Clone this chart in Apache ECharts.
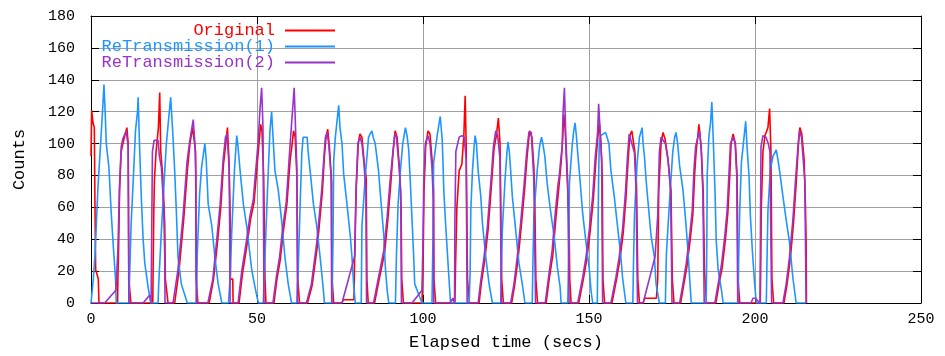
<!DOCTYPE html>
<html>
<head>
<meta charset="utf-8">
<script src="https://cdn.jsdelivr.net/npm/echarts@6/dist/echarts.min.js"></script>
<style>
html,body{margin:0;padding:0;background:#fff;}
#chart{width:945px;height:356px;}
</style>
</head>
<body>
<div id="chart"></div>
<script>
const seriesNames = ['Original', 'ReTransmission(1)', 'ReTransmission(2)'];
const seriesColors = ['#ff0000', '#1e96ff', '#9933cc'];

// [elapsed seconds, count]
const original = [
[0,92],[0.2,121],[0.6,113],[1.0,110],[1.2,60],[1.4,21],[2.2,15],[2.4,0],
[8.0,0],[8.1,15],[8.3,33],[8.6,70],[9.1,95],[9.6,100],[10.2,105],[10.8,110],[11.2,100],[11.4,15],[11.9,15],[12.0,0],
[18.6,0],[18.9,55],[19.1,77],[19.6,95],[20.3,110],[20.7,132],[21.0,95],[21.6,80],[22.2,50],[22.4,15],[23.0,15],[23.2,0],
[25.2,0],[26.5,20],[27.9,52],[29.1,85],[29.8,100],[30.6,110],[31.0,110],[31.5,95],[31.7,15],[32.1,15],[32.2,0],
[35.6,0],[36.9,15],[38.0,36],[39.1,60],[39.9,87],[40.6,100],[41.1,110],[41.6,87],[41.9,56],[42.0,15],[42.7,15],[42.8,0],
[44.6,0],[45.6,18],[47.1,38],[48.1,53],[49.1,63],[49.6,75],[50.1,88],[50.6,100],[51.1,112],[51.5,108],[52.0,80],[52.2,50],[52.4,15],[52.6,15],[52.7,0],
[55.1,0],[56.0,15],[57.0,27],[58.0,46],[59.0,62],[60.0,90],[60.6,100],[61.0,108],[61.5,104],[62.0,80],[62.3,15],[62.7,15],[62.8,0],
[65.2,0],[66.6,11],[68.2,36],[69.7,70],[70.3,92],[70.8,104],[71.3,109],[71.8,98],[72.5,75],[72.6,15],[73.0,15],[73.1,0],
[75.6,0],[76.0,2],[79.2,2],[79.5,40],[79.9,72],[80.5,100],[81.0,106],[81.6,104],[82.3,88],[82.9,78],[83.1,15],[83.4,15],[83.5,0],
[85.4,0],[86.8,15],[88.4,31],[89.4,52],[90.3,75],[91.0,95],[91.6,108],[92.2,104],[92.9,85],[93.4,60],[93.6,15],[94.0,15],[94.1,0],
[99.7,0],[100.0,20],[100.3,70],[100.8,98],[101.5,108],[102.1,106],[102.8,88],[103.2,70],[103.3,15],[103.7,15],[103.8,0],
[109.6,0],[109.8,23],[110.2,60],[110.9,83],[111.7,87],[112.3,105],[112.7,130],[113.0,100],[113.4,15],[113.9,15],[114.0,0],
[116.9,0],[117.6,13],[118.6,27],[119.6,46],[120.3,65],[120.9,82],[121.4,97],[122.1,105],[122.7,116],[123.2,100],[123.7,15],[124.1,15],[124.2,0],
[126.7,0],[127.6,11],[128.6,27],[129.6,48],[130.6,71],[131.4,93],[132.1,108],[132.8,104],[133.4,85],[133.7,60],[134.0,15],[134.4,15],[134.5,0],
[137.1,0],[138.0,15],[139.1,30],[140.1,55],[140.9,72],[141.6,88],[142.0,100],[142.4,118],[142.8,110],[143.5,75],[144.0,50],[144.2,15],[144.5,15],[144.6,0],
[146.9,0],[148.3,15],[149.3,27],[150.3,44],[151.3,65],[152.1,90],[152.7,105],[153.1,113],[153.6,100],[154.0,80],[154.2,15],[154.6,15],[154.7,0],
[156.9,0],[158.3,15],[159.3,27],[160.3,44],[161.1,65],[161.8,90],[162.3,105],[162.9,108],[163.8,95],[164.3,75],[164.7,15],[165.1,15],[165.2,0],
[166.3,0],[166.8,3],[170.3,3],[170.7,15],[171.0,70],[171.7,100],[172.3,107],[172.9,103],[173.8,90],[174.7,70],[175.1,15],[175.5,15],[175.6,0],
[177.6,0],[178.5,11],[179.5,23],[180.5,40],[181.3,56],[181.8,80],[182.3,96],[182.8,105],[183.1,112],[183.8,98],[184.4,70],[184.8,20],[185.3,20],[185.4,0],
[188.2,0],[189.1,11],[190.1,22],[191.1,40],[191.8,56],[192.4,80],[192.8,100],[193.4,106],[194.1,100],[194.6,80],[194.9,15],[195.3,15],[195.4,0],
[201.6,0],[201.9,60],[202.4,95],[203.0,105],[203.9,110],[204.4,122],[204.8,95],[205.1,15],[205.5,15],[205.6,0],
[208.7,0],[209.6,11],[210.6,27],[211.6,50],[212.4,75],[213.1,100],[213.5,110],[214.1,106],[214.8,90],[215.2,60],[215.4,38],[215.5,0]
];

const retrans1 = [
[0,0],[0.6,0],[0.7,15],[1.2,30],[2.1,73],[2.9,100],[3.6,125],[3.9,137],[4.3,118],[4.6,100],[5.4,85],[6.1,56],[6.8,33],[7.4,15],[7.6,0],
[11.4,0],[11.6,15],[12.1,50],[12.9,85],[13.4,108],[14.0,120],[14.2,129],[14.6,100],[15.2,64],[15.7,40],[16.2,25],[17.2,10],[18.0,0],
[20.2,0],[20.4,12],[21.2,45],[22.0,75],[22.7,100],[23.5,118],[24.0,129],[24.4,115],[24.7,104],[25.2,83],[25.7,58],[26.2,29],[27.2,12],[29.0,0],
[31.8,0],[32.0,30],[32.7,68],[33.3,85],[33.7,91],[34.3,100],[34.7,90],[35.3,62],[36.4,48],[37.3,29],[38.3,12],[39.4,0],
[41.4,0],[41.9,15],[42.4,45],[43.2,83],[43.9,105],[44.2,100],[44.9,83],[45.9,62],[46.9,48],[48.4,21],[49.4,10],[50.4,0],
[51.9,0],[52.1,12],[52.4,29],[53.2,73],[53.9,108],[54.4,120],[54.8,105],[55.4,83],[56.4,71],[57.4,52],[58.4,29],[59.4,12],[60.4,0],
[62.0,0],[62.4,20],[63.0,62],[63.5,94],[63.9,104],[65.1,104],[65.4,95],[66.0,83],[67.0,62],[68.0,48],[69.0,29],[70.0,8],[70.3,0],
[72.6,0],[72.9,40],[73.1,89],[73.6,104],[74.1,114],[74.6,124],[75.0,110],[75.6,100],[76.1,81],[77.1,62],[78.1,42],[78.6,29],[79.1,12],[79.6,0],
[81.4,0],[81.6,48],[82.6,79],[83.6,104],[84.1,106],[84.6,108],[85.0,104],[85.6,100],[86.6,83],[87.4,62],[88.2,42],[88.7,21],[89.2,8],[89.7,0],
[91.7,0],[92.0,30],[92.5,62],[93.2,83],[93.9,100],[94.7,110],[95.2,105],[95.7,96],[96.2,75],[96.7,52],[97.2,29],[97.5,12],[99.7,0],
[102.7,0],[103.0,40],[103.2,88],[104.2,104],[104.8,112],[105.2,117],[105.8,102],[106.3,69],[106.8,50],[107.3,33],[107.8,16],[108.3,0],
[113.9,0],[114.2,20],[114.4,58],[114.9,83],[115.4,98],[115.7,105],[116.1,100],[116.6,83],[117.4,67],[117.9,50],[118.9,29],[119.9,12],[120.9,0],
[123.4,0],[123.6,20],[123.9,46],[124.7,77],[125.3,95],[125.6,101],[126.0,95],[126.4,83],[126.9,67],[127.9,46],[128.9,25],[129.9,12],[130.7,0],
[132.9,0],[133.1,25],[133.4,55],[134.4,83],[135.1,98],[135.7,104],[136.1,100],[136.7,92],[137.4,75],[138.4,58],[139.5,42],[140.5,22],[141.3,10],[141.6,0],
[143.6,0],[143.9,30],[144.1,75],[144.9,98],[145.4,108],[145.8,113],[146.2,105],[146.6,94],[147.3,77],[148.1,56],[149.1,38],[150.1,21],[150.6,8],[151.1,0],
[152.5,0],[152.7,40],[152.9,80],[153.1,100],[153.5,105],[155.0,107],[156.0,100],[156.6,83],[157.6,67],[158.6,48],[159.6,29],[160.1,16],[161.1,0],
[163.2,0],[163.4,25],[163.7,55],[164.5,88],[165.2,104],[166.0,110],[166.3,100],[166.7,92],[167.2,77],[168.0,58],[168.7,42],[169.7,29],[170.2,12],[171.2,0],
[173.0,0],[173.3,30],[174.2,62],[175.2,94],[175.8,104],[176.2,107],[176.7,100],[177.3,86],[178.3,71],[179.1,52],[179.8,33],[180.3,16],[180.8,0],
[185.3,0],[185.5,40],[185.6,80],[186.1,104],[186.6,113],[187.0,126],[187.3,110],[187.5,98],[188.0,67],[188.3,40],[188.9,21],[189.9,8],[190.4,0],
[194.9,0],[195.1,30],[195.4,58],[195.9,88],[196.6,102],[197.2,114],[197.6,98],[198.2,80],[198.6,55],[199.2,33],[199.9,12],[200.4,0],
[203.4,0],[203.6,25],[203.9,58],[204.6,83],[205.4,92],[206.4,96],[206.9,90],[207.4,83],[208.4,67],[209.4,52],[210.4,38],[211.4,16],[212.4,0],
[215.4,0]
];

const retrans2 = [
[0,0],[4.1,0],[7.5,8],[8.1,33],[8.6,74],[9.1,98],[9.6,103],[10.2,106],[10.6,108],[11.2,98],[11.4,0],
[15.7,0],[17.7,5],[18.1,0],[18.4,0],[18.5,95],[19.0,102],[20.2,102],[20.6,92],[21.2,85],[21.9,60],[22.2,30],[22.3,0],
[24.7,0],[26.2,21],[27.7,54],[28.9,88],[29.7,101],[30.4,110],[30.8,115],[31.3,100],[31.6,80],[31.7,0],
[35.2,0],[36.7,15],[37.8,38],[38.9,62],[39.8,90],[40.5,104],[41.0,106],[41.6,85],[41.8,40],[41.9,0],
[44.3,0],[45.4,20],[46.9,40],[47.9,55],[48.9,65],[49.4,78],[49.9,90],[50.4,103],[50.9,122],[51.4,135],[51.8,110],[52.1,0],
[54.8,0],[55.8,16],[56.8,29],[57.8,48],[58.8,63],[59.8,94],[60.5,115],[61.2,135],[61.6,110],[62.0,85],[62.2,0],
[64.9,0],[66.4,12],[68.0,38],[69.5,71],[70.1,90],[70.6,104],[71.1,107],[71.6,100],[72.3,80],[72.5,0],
[75.6,0],[79.5,30],[79.8,70],[80.4,100],[81.0,104],[81.6,100],[82.2,88],[82.8,70],[83.0,0],
[85.1,0],[86.6,16],[88.2,33],[89.2,54],[90.1,77],[90.9,94],[91.5,106],[92.0,104],[92.8,85],[93.3,70],[93.5,0],
[96.7,0],[99.7,8],[100.0,40],[100.2,73],[100.7,100],[101.5,105],[102.1,100],[102.7,85],[103.1,65],[103.2,0],
[108.1,0],[109.0,3],[109.5,0],[109.6,50],[109.9,95],[110.9,104],[111.7,105],[112.4,104],[113.0,90],[113.3,0],
[116.6,0],[117.4,14],[118.4,29],[119.4,48],[120.1,67],[120.7,83],[121.2,98],[121.9,108],[122.5,105],[123.2,90],[123.6,0],
[126.4,0],[127.4,12],[128.4,29],[129.4,50],[130.4,73],[131.2,94],[131.9,107],[132.6,107],[133.4,77],[133.9,0],
[136.8,0],[137.8,16],[138.9,33],[139.9,58],[140.7,75],[141.0,79],[141.5,90],[141.9,98],[142.2,120],[142.6,135],[143.0,105],[143.6,75],[144.0,0],
[146.6,0],[148.1,16],[149.1,29],[150.1,46],[151.1,67],[151.9,92],[152.6,107],[152.9,125],[153.3,110],[153.8,90],[154.1,0],
[156.6,0],[158.1,16],[159.1,29],[160.1,46],[160.9,67],[161.6,92],[162.1,106],[162.7,107],[163.7,94],[164.2,70],[164.6,0],
[166.3,0],[169.9,29],[170.7,55],[171.2,95],[171.7,104],[172.3,105],[173.0,100],[173.8,90],[174.6,70],[175.0,0],
[177.3,0],[178.3,12],[179.3,25],[180.3,42],[181.1,58],[181.6,83],[182.1,98],[182.8,104],[183.3,108],[183.8,96],[184.3,69],[184.7,0],
[187.9,0],[188.9,12],[189.9,24],[190.9,42],[191.6,58],[192.2,83],[192.6,100],[193.4,104],[194.0,100],[194.5,80],[194.8,0],
[198.8,0],[199.4,3],[200.1,3],[201.5,0],[201.6,30],[201.8,98],[202.4,105],[203.3,104],[204.0,100],[204.5,95],[205.0,0],
[208.4,0],[209.4,12],[210.4,29],[211.4,52],[212.2,77],[213.0,100],[213.4,108],[214.0,104],[215.0,77],[215.4,0]
];

const seriesData = [original, retrans1, retrans2];

const FONT = 'Liberation Mono, DejaVu Sans Mono, monospace';
const chart = echarts.init(document.getElementById('chart'), null, {renderer: 'canvas'});

const axisCommon = {
  type: 'value',
  axisLine: {show: true, onZero: false, lineStyle: {color: '#000', width: 1}},
  axisTick: {show: true, inside: true, length: 8, lineStyle: {color: '#000', width: 1}}
};

chart.setOption({
  animation: false,
  backgroundColor: '#ffffff',
  textStyle: {fontFamily: FONT},
  grid: {left: 91, right: 24, top: 16, bottom: 53, containLabel: false},
  legend: {
    orient: 'vertical',
    align: 'right',
    right: 610,
    top: 22,
    padding: 0,
    itemGap: -1,
    itemWidth: 50,
    itemHeight: 2,
    icon: 'rect',
    selectedMode: false,
    textStyle: {fontFamily: FONT, fontSize: 17, lineHeight: 16, padding: [0, 5, 0, 0]},
    data: seriesNames.map((n, i) => ({name: n, textStyle: {color: seriesColors[i]}}))
  },
  xAxis: [
    Object.assign({}, axisCommon, {
      position: 'bottom', min: 0, max: 250, interval: 50,
      name: 'Elapsed time (secs)', nameLocation: 'middle', nameGap: 31,
      nameTextStyle: {fontFamily: FONT, fontSize: 17, color: '#000'},
      axisLabel: {fontFamily: FONT, fontSize: 15, color: '#000', margin: 9},
      splitLine: {show: true, lineStyle: {color: '#a0a0a0', width: 1}}
    }),
    Object.assign({}, axisCommon, {
      position: 'top', min: 0, max: 250, interval: 50,
      axisLabel: {show: false}, splitLine: {show: false}
    })
  ],
  yAxis: [
    Object.assign({}, axisCommon, {
      position: 'left', min: 0, max: 180, interval: 20,
      name: 'Counts', nameLocation: 'middle', nameGap: 63, nameRotate: 90,
      nameTextStyle: {fontFamily: FONT, fontSize: 17, color: '#000'},
      axisLabel: {fontFamily: FONT, fontSize: 15, color: '#000', margin: 16},
      splitLine: {show: true, lineStyle: {color: '#a0a0a0', width: 1}}
    }),
    Object.assign({}, axisCommon, {
      position: 'right', min: 0, max: 180, interval: 20,
      axisLabel: {show: false}, splitLine: {show: false}
    })
  ],
  series: seriesNames.map((n, i) => ({
    name: n,
    type: 'line',
    xAxisIndex: 0,
    yAxisIndex: 0,
    data: seriesData[i],
    showSymbol: false,
    symbol: 'none',
    clip: true,
    color: seriesColors[i],
    lineStyle: {color: seriesColors[i], width: 1.6},
    itemStyle: {color: seriesColors[i]},
    z: 2 + i
  }))
});
</script>
</body>
</html>
